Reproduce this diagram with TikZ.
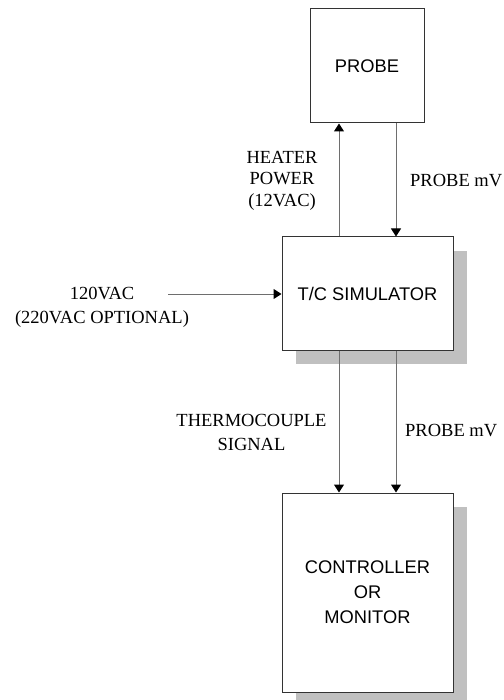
\documentclass[tikz,border=0pt]{standalone}
\usepackage{fontspec}
\setmainfont{Liberation Serif}
\newfontfamily\boxfont{Liberation Sans}
\usetikzlibrary{arrows.meta, positioning, calc, shadows}
\definecolor{linegray}{RGB}{110, 110, 110}
\definecolor{shadowgray}{RGB}{192, 192, 192}

\begin{document}
\begin{tikzpicture}[x=1pt, y=-1pt,
  box/.style={draw=black!80, fill=white, line width=1pt, inner sep=0pt, align=center,
              font=\boxfont\fontsize{18.3}{25}\selectfont},
  shbox/.style={box, drop shadow={shadow xshift=14pt, shadow yshift=-14pt,
              fill=shadowgray, opacity=1}},
  lbl/.style={inner sep=0pt, align=center, font=\fontsize{18.5}{24}\selectfont},
  arr/.style={-{Triangle[length=8pt, width=10pt, black]}, linegray, line width=1pt}
]
  \useasboundingbox (0,0) rectangle (503,700);

  % blocks
  \node[box, minimum width=114pt, minimum height=114pt] (probe) at (367,66) {PROBE};
  \node[shbox, minimum width=171pt, minimum height=113pt] (tcs) at (367.5,293.5) {T/C SIMULATOR};
  \node[shbox, minimum width=171pt, minimum height=199pt] (ctrl) at (367.5,592.5) {CONTROLLER\\OR\\MONITOR};

  % labels
  \node[lbl, font=\fontsize{18.5}{21.5}\selectfont] (heat) at (282,180.5) {HEATER\\POWER\\(12VAC)};
  \node[lbl, anchor=west] (pmvtop) at (410,181) {PROBE mV};
  \node[lbl] (mains) at (102,307) {120VAC\\(220VAC OPTIONAL)};
  \node[lbl] (tcsig) at (251.5,432) {THERMOCOUPLE\\SIGNAL};
  \node[lbl, anchor=west] (pmvbot) at (405,431) {PROBE mV};
  \coordinate (mainsend) at (168,294);

  % connectors
  \draw[arr] ([xshift=-28.5pt]tcs.north) -- ([xshift=-28pt]probe.south);
  \draw[arr] ([xshift=29pt]probe.south) -- ([xshift=28.5pt]tcs.north);
  \draw[arr] (mainsend) -- (mainsend -| tcs.west);
  \draw[arr] ([xshift=-28.5pt]tcs.south) -- ([xshift=-28.5pt]ctrl.north);
  \draw[arr] ([xshift=28.5pt]tcs.south) -- ([xshift=28.5pt]ctrl.north);
\end{tikzpicture}
\end{document}
